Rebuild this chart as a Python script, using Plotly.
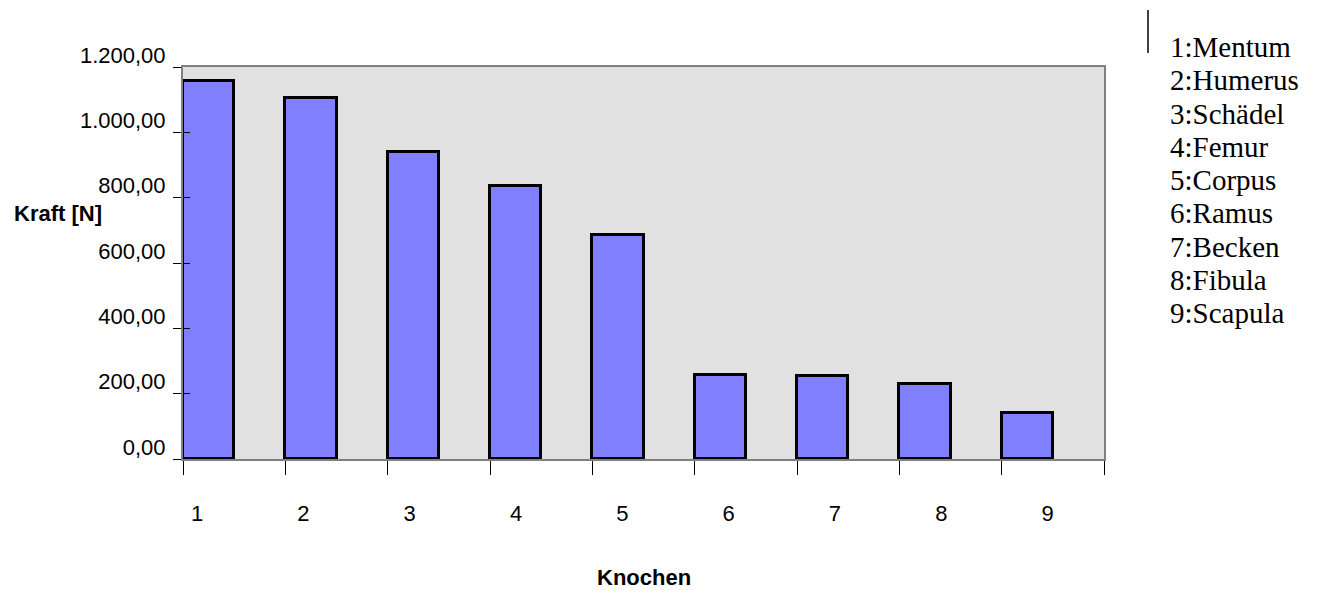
import plotly.graph_objects as go

# Data
categories = ["1", "2", "3", "4", "5", "6", "7", "8", "9"]
names = ["Mentum", "Humerus", "Schädel", "Femur", "Corpus", "Ramus", "Becken", "Fibula", "Scapula"]
kraft = [1158, 1106, 940, 835, 685, 256, 254, 231, 140]
y_ticks = [0, 200, 400, 600, 800, 1000, 1200]
y_ticktext = ["0,00", "200,00", "400,00", "600,00", "800,00", "1.000,00", "1.200,00"]

SANS = "Liberation Sans, Arial, sans-serif"
SERIF = "Liberation Serif, Times New Roman, serif"

# page body has an 8px margin; compensate
OFF = 8
W, H = 1322 - OFF, 593 - OFF
ML, MR, MT, MB = 183 - OFF, 218, 67 - OFF, 134
plot_w = W - ML - MR
plot_h = H - MT - MB

def px_x(x):  # reference pixel -> paper x
    return (x - OFF - ML) / plot_w

def px_y(y):  # reference pixel -> paper y
    return (H - MB - (y - OFF)) / plot_h

n = len(categories)
bar_x = [i + 0.25 for i in range(n)]
bounds = list(range(n + 1))

fig = go.Figure()
fig.add_trace(go.Bar(
    x=bar_x, y=kraft, width=0.5,
    marker=dict(color="#8080FF", line=dict(color="black", width=3)),
    xaxis="x", yaxis="y", showlegend=False,
))
fig.add_trace(go.Scatter(x=[1], y=[0], xaxis="x2", yaxis="y", mode="markers",
                         marker=dict(opacity=0), showlegend=False, hoverinfo="skip"))
fig.add_trace(go.Scatter(x=[0], y=[0], xaxis="x3", yaxis="y2", mode="markers",
                         marker=dict(opacity=0), showlegend=False, hoverinfo="skip"))

fig.update_layout(
    width=W, height=H,
    margin=dict(l=ML, r=MR, t=MT, b=MB),
    paper_bgcolor="white",
    plot_bgcolor="#E1E1E1",
    showlegend=False,
    bargap=0,
    xaxis=dict(
        range=[0, n], tickmode="array", tickvals=bounds, ticktext=[""] * len(bounds),
        ticks="outside", ticklen=14, tickwidth=1.3, tickcolor="black",
        showgrid=False, zeroline=False,
        showline=True, linecolor="#808080", linewidth=2, mirror=True,
    ),
    xaxis2=dict(
        overlaying="x", anchor="y", side="bottom",
        range=[0.868, 9.53], tickmode="array", tickvals=list(range(1, n + 1)),
        ticktext=categories, ticks="", showgrid=False, zeroline=False, showline=False,
        tickfont=dict(family=SANS, size=22, color="black"),
        ticklabelstandoff=39,
    ),
    xaxis3=dict(
        overlaying="x", anchor="y2", side="bottom",
        range=[0, n], tickmode="array", tickvals=bounds, ticktext=[""] * len(bounds),
        ticks="inside", ticklen=14, tickwidth=1.3, tickcolor="black",
        showgrid=False, zeroline=False, showline=False,
    ),
    yaxis=dict(
        range=[0, 1200], tickmode="array", tickvals=y_ticks, ticktext=y_ticktext,
        ticks="outside", ticklen=8, tickwidth=1.3, tickcolor="black",
        tickfont=dict(family=SANS, size=22, color="black"),
        ticklabelshift=-12, ticklabelstandoff=3,
        showgrid=False, zeroline=False,
        showline=True, linecolor="#808080", linewidth=2, mirror=True,
    ),
    yaxis2=dict(
        overlaying="y", anchor="x", side="left",
        range=[0, 1200], tickmode="array", tickvals=y_ticks, ticktext=[""] * len(y_ticks),
        ticks="inside", ticklen=7, tickwidth=1.3, tickcolor="black",
        showgrid=False, zeroline=False, showline=False,
    ),
)

# Axis titles
fig.add_annotation(text="<b>Kraft [N]</b>", xref="paper", yref="paper",
                   x=px_x(12), y=px_y(213),
                   xanchor="left", yanchor="middle", showarrow=False,
                   font=dict(family=SANS, size=22, color="black"))
fig.add_annotation(text="<b>Knochen</b>", xref="paper", yref="paper",
                   x=px_x(644), y=px_y(577),
                   xanchor="center", yanchor="middle", showarrow=False,
                   font=dict(family=SANS, size=22, color="black"))

# Side legend text
for i, (c, nm) in enumerate(zip(categories, names)):
    yc = 47 + 33.25 * i
    fig.add_annotation(text=f"{c}:{nm}", xref="paper", yref="paper",
                       x=px_x(1168), y=px_y(yc),
                       xanchor="left", yanchor="middle", showarrow=False,
                       font=dict(family=SERIF, size=29, color="black"))

fig.add_shape(type="line", xref="paper", yref="paper",
              x0=px_x(1148), x1=px_x(1148),
              y0=px_y(10), y1=px_y(53),
              line=dict(color="black", width=1.5))

fig.write_html("out.html")
